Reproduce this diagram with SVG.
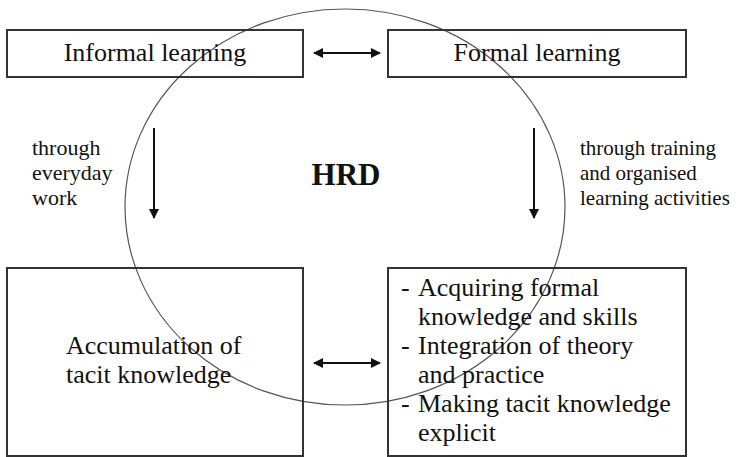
<svg xmlns="http://www.w3.org/2000/svg" width="744" height="457" viewBox="0 0 744 457">
<style>
.box{fill:none;stroke:#333;stroke-width:2}
.t{font-family:"Liberation Serif","Times New Roman",serif;fill:#111}
.big{font-size:26px}
.sm{font-size:22px}
.sm2{font-size:21px}
.conn{stroke:#111;stroke-width:2;fill:none}
</style>
<defs>
<marker id="ah" viewBox="0 0 10 10" refX="9" refY="5" markerWidth="11" markerHeight="10" markerUnits="userSpaceOnUse" orient="auto-start-reverse">
<path d="M0,0 L10,5 L0,10 Z" fill="#111"/>
</marker>
</defs>
<rect width="744" height="457" fill="#fff"/>
<g id="hrd">
<ellipse cx="345" cy="207" rx="220" ry="198" fill="none" stroke="#555" stroke-width="1.2"/>
<text class="t" x="346" y="185" font-size="31" font-weight="bold" text-anchor="middle">HRD</text>
</g>
<g id="informal">
<rect class="box" x="7" y="30" width="296" height="47"/>
<text class="t big" x="155" y="61" text-anchor="middle">Informal learning</text>
</g>
<g id="formal">
<rect class="box" x="388" y="30" width="298" height="47"/>
<text class="t big" x="537" y="61" text-anchor="middle">Formal learning</text>
</g>
<g id="tacit">
<rect class="box" x="7" y="268" width="296" height="188"/>
<text class="t big" x="66" y="354">Accumulation of</text>
<text class="t big" x="66" y="383">tacit knowledge</text>
</g>
<g id="outcomes">
<rect class="box" x="388" y="268" width="298" height="188"/>
<text class="t big" x="401" y="296">- </text>
<text class="t big" x="418" y="296">Acquiring formal</text>
<text class="t big" x="418" y="325">knowledge and skills</text>
<text class="t big" x="401" y="354">- </text>
<text class="t big" x="418" y="354">Integration of theory</text>
<text class="t big" x="418" y="383">and practice</text>
<text class="t big" x="401" y="412">- </text>
<text class="t big" x="418" y="412">Making tacit knowledge</text>
<text class="t big" x="418" y="441">explicit</text>
</g>
<g id="connectors">
<line class="conn" x1="314" y1="53" x2="380" y2="53" marker-start="url(#ah)" marker-end="url(#ah)"/>
<line class="conn" x1="314" y1="363" x2="380" y2="363" marker-start="url(#ah)" marker-end="url(#ah)"/>
<line class="conn" x1="154" y1="128" x2="154" y2="218" marker-end="url(#ah)"/>
<line class="conn" x1="534" y1="128" x2="534" y2="218" marker-end="url(#ah)"/>
</g>
<g id="labels">
<text class="t sm" x="32" y="155">through</text>
<text class="t sm" x="32" y="180">everyday</text>
<text class="t sm" x="32" y="205">work</text>
<text class="t sm2" x="580" y="155">through training</text>
<text class="t sm2" x="580" y="180">and organised</text>
<text class="t sm2" x="580" y="205">learning activities</text>
</g>
</svg>
